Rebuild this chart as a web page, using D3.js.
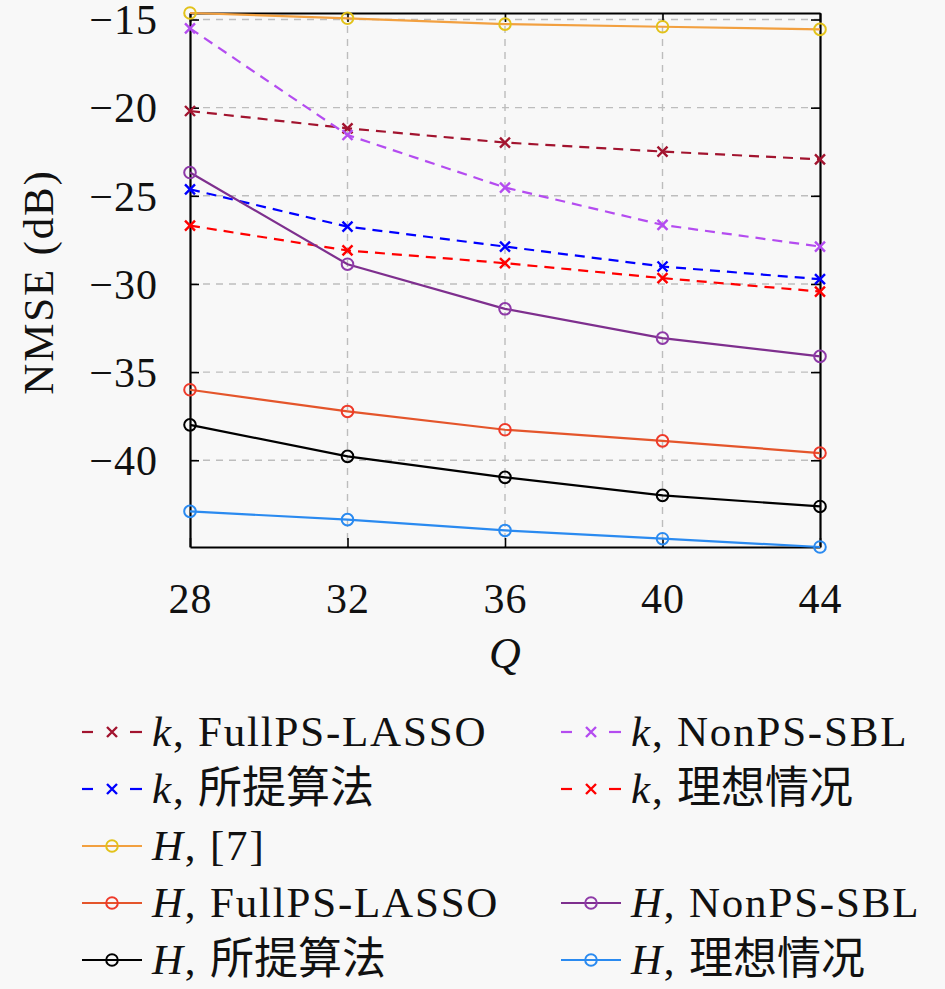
<!DOCTYPE html>
<html>
<head>
<meta charset="utf-8">
<script src="https://cdn.jsdelivr.net/npm/d3@7"></script>
<style>
  html, body { margin: 0; padding: 0; background: #f8f8f8; }
  svg { display: block; }
  text { font-family: "Liberation Serif", "Noto Sans CJK SC", serif; fill: #111; }
</style>
</head>
<body>
<div id="chart"></div>
<script>
// values (NMSE in dB against Q)
const qValues = [28, 32, 36, 40, 44];
const kFullPS = [-20.19, -21.17, -21.98, -22.49, -22.93];
const kNonPS = [-15.5, -21.55, -24.53, -26.65, -27.88];
const kProposed = [-24.63, -26.75, -27.88, -29.01, -29.73];
const kIdeal = [-26.69, -28.10, -28.82, -29.67, -30.43];
const hRef7 = [-14.63, -14.93, -15.26, -15.41, -15.56];
const hFullPS = [-36.0, -37.23, -38.27, -38.9, -39.59];
const hNonPS = [-23.68, -28.88, -31.41, -33.07, -34.11];
const hProposed = [-37.99, -39.78, -40.97, -41.99, -42.62];
const hIdeal = [-42.9, -43.37, -43.98, -44.45, -44.92];
const yTicks = [-40, -35, -30, -25, -20, -15];
const xTicks = [28, 32, 36, 40, 44];

// legend order: row by row, two columns
const series = [
  {sym: "k", name: "FullPS-LASSO", values: kFullPS, color: "#A2142F", dash: true, col: 0, row: 0},
  {sym: "k", name: "NonPS-SBL", values: kNonPS, color: "#B44CF0", dash: true, col: 1, row: 0},
  {sym: "k", name: "所提算法", values: kProposed, color: "#0000FF", dash: true, col: 0, row: 1},
  {sym: "k", name: "理想情况", values: kIdeal, color: "#FF0000", dash: true, col: 1, row: 1},
  {sym: "H", name: "[7]", values: hRef7, color: "#F2A040", marker: "#E2C21A", col: 0, row: 2},
  {sym: "H", name: "FullPS-LASSO", values: hFullPS, color: "#E4552B", marker: "#EE3A2A", col: 0, row: 3},
  {sym: "H", name: "NonPS-SBL", values: hNonPS, color: "#7E2F8E", marker: "#8E3AA8", col: 1, row: 3},
  {sym: "H", name: "所提算法", values: hProposed, color: "#000000", col: 0, row: 4},
  {sym: "H", name: "理想情况", values: hIdeal, color: "#2A8AF0", col: 1, row: 4}
];

const width = 945, height = 989;
const plot = {left: 190, right: 820, top: 13, bottom: 547};

const svg = d3.select("#chart").append("svg")
  .attr("width", width)
  .attr("height", height);

const allValues = series.flatMap(s => s.values);
const x = d3.scaleLinear().domain(d3.extent(qValues)).range([plot.left, plot.right]);
const y = d3.scaleLinear().domain(d3.extent(allValues)).range([plot.bottom, plot.top]);

// grid
const grid = svg.append("g")
  .attr("stroke", "#bdbdbd")
  .attr("stroke-width", 1.4)
  .attr("stroke-dasharray", "7,6");

grid.selectAll(".gy").data(yTicks).enter().append("line")
  .attr("x1", plot.left).attr("x2", plot.right)
  .attr("y1", d => y(d)).attr("y2", d => y(d));

grid.selectAll(".gx").data(xTicks.slice(1, -1)).enter().append("line")
  .attr("x1", d => x(d)).attr("x2", d => x(d))
  .attr("y1", plot.top).attr("y2", plot.bottom);

// axes (inward ticks on all four sides)
const tickLen = 9;
const axisLeft = svg.append("g")
  .attr("transform", `translate(${plot.left},0)`)
  .call(d3.axisLeft(y).tickValues(yTicks).tickSizeInner(-tickLen).tickSizeOuter(0).tickPadding(32));
const axisRight = svg.append("g")
  .attr("transform", `translate(${plot.right},0)`)
  .call(d3.axisRight(y).tickValues(yTicks).tickSizeInner(-tickLen).tickSizeOuter(0).tickFormat(""));
const axisBottom = svg.append("g")
  .attr("transform", `translate(0,${plot.bottom})`)
  .call(d3.axisBottom(x).tickValues(xTicks).tickSizeInner(-tickLen).tickSizeOuter(0).tickPadding(36));
const axisTop = svg.append("g")
  .attr("transform", `translate(0,${plot.top})`)
  .call(d3.axisTop(x).tickValues(xTicks).tickSizeInner(-tickLen).tickSizeOuter(0).tickFormat(""));

[axisLeft, axisRight, axisBottom, axisTop].forEach(a => {
  a.selectAll("path").attr("stroke", "#000").attr("stroke-width", 2.2);
  a.selectAll("line").attr("stroke", "#000").attr("stroke-width", 1.6);
  a.selectAll("text")
    .attr("font-size", 42)
    .attr("letter-spacing", 1)
    .attr("fill", "#111");
});
axisLeft.selectAll("text").attr("dy", "0.34em");
axisBottom.selectAll("text").attr("dy", "0.72em");

// axis titles
svg.append("text")
  .attr("transform", `translate(53,${(plot.top + plot.bottom) / 2 + 2}) rotate(-90)`)
  .attr("text-anchor", "middle")
  .attr("font-size", 43)
  .attr("letter-spacing", 1.8)
  .text("NMSE (dB)");

svg.append("text")
  .attr("x", (plot.left + plot.right) / 2)
  .attr("y", 668)
  .attr("text-anchor", "middle")
  .attr("font-size", 44)
  .attr("font-style", "italic")
  .text("Q");

// series
const line = d3.line()
  .x((d, i) => x(qValues[i]))
  .y(d => y(d));

function drawMarker(g, s, cx, cy) {
  const mc = s.marker || s.color;
  if (s.dash) {
    const r = 5;
    g.append("path")
      .attr("d", `M${cx - r},${cy - r}L${cx + r},${cy + r}M${cx - r},${cy + r}L${cx + r},${cy - r}`)
      .attr("stroke", mc).attr("stroke-width", 2.4).attr("fill", "none");
  } else {
    g.append("circle")
      .attr("cx", cx).attr("cy", cy).attr("r", 5.8)
      .attr("fill", "none").attr("stroke", mc).attr("stroke-width", 2);
  }
}

const lines = svg.append("g");
series.forEach(s => {
  const g = lines.append("g");
  g.append("path")
    .datum(s.values)
    .attr("d", line)
    .attr("fill", "none")
    .attr("stroke", s.color)
    .attr("stroke-width", 2.2)
    .attr("stroke-dasharray", s.dash ? "10,7" : null);
  s.values.forEach((v, i) => drawMarker(g, s, x(qValues[i]), y(v)));
});

// legend
const legCols = [82, 561];
const legRows = [732, 789, 846, 903, 960];
const legend = svg.append("g");

series.forEach(s => {
  const lx = legCols[s.col], ly = legRows[s.row];
  const g = legend.append("g");
  if (s.dash) {
    g.append("line").attr("x1", lx).attr("x2", lx + 11).attr("y1", ly).attr("y2", ly)
      .attr("stroke", s.color).attr("stroke-width", 2.2);
    g.append("line").attr("x1", lx + 48).attr("x2", lx + 60).attr("y1", ly).attr("y2", ly)
      .attr("stroke", s.color).attr("stroke-width", 2.2);
  } else {
    g.append("line").attr("x1", lx).attr("x2", lx + 60).attr("y1", ly).attr("y2", ly)
      .attr("stroke", s.color).attr("stroke-width", 2.2);
  }
  drawMarker(g, s, lx + 30, ly);

  const cjk = /[\u4e00-\u9fff]/.test(s.name);
  const t = g.append("text")
    .attr("x", lx + 70)
    .attr("y", ly + 14)
    .attr("font-size", 43)
    .attr("letter-spacing", 1.8);
  t.append("tspan").attr("font-style", "italic").text(s.sym);
  if (cjk) {
    t.append("tspan").text(", ");
    t.append("tspan").attr("font-size", 44).attr("letter-spacing", 0).text(s.name);
  } else {
    t.append("tspan").text(", " + s.name);
  }
});
</script>
</body>
</html>
